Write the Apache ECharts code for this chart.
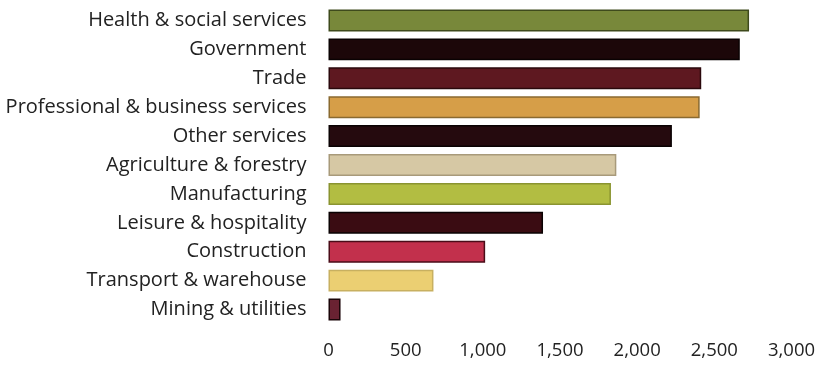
<!DOCTYPE html>
<html><head><meta charset="utf-8">
<script src="https://cdn.jsdelivr.net/npm/echarts@6/dist/echarts.min.js"></script>
<style>html,body{margin:0;padding:0;background:#fff}#c{width:819px;height:366px}</style>
</head><body><div id="c"></div>
<script>
const categories = ["Health & social services","Government","Trade","Professional & business services","Other services","Agriculture & forestry","Manufacturing","Leisure & hospitality","Construction","Transport & warehouse","Mining & utilities"];
const values = [2725, 2665, 2415, 2405, 2225, 1865, 1830, 1390, 1015, 680, 78];
const fills = ["#78883a","#1c0709","#5e1820","#d69e48","#250a0e","#d6c8a4","#b2bd42","#3a0c12","#c2304c","#ebcf72","#6a2232"];
const borders = ["#3e4a1c","#0a0203","#2a080c","#8a6a30","#0a0203","#a89a7a","#8a9430","#0a0203","#4a0c18","#c8b060","#1a0508"];
const ticks = [0, 500, 1000, 1500, 2000, 2500, 3000];

const chart = echarts.init(document.getElementById('c'));
chart.setOption({
  animation: false,
  grid: {left: 328.5, right: 27.5, top: 6, bottom: 42, containLabel: false, outerBoundsMode: 'none'},
  xAxis: {
    type: 'value', min: ticks[0], max: ticks[ticks.length-1], interval: 500,
    axisLine: {show: false}, axisTick: {show: false}, splitLine: {show: false},
    axisLabel: {color: '#222', fontFamily: 'Open Sans', fontSize: 18.5, margin: 17,
      formatter: v => v.toLocaleString('en-US')}
  },
  yAxis: {
    type: 'category', data: categories, inverse: true,
    axisLine: {show: false}, axisTick: {show: false},
    axisLabel: {color: '#222', fontFamily: 'Open Sans', fontSize: 20, margin: 22}
  },
  series: [{
    type: 'bar', barCategoryGap: '24%',
    data: values.map((v, i) => ({value: v, itemStyle: {color: fills[i], borderColor: borders[i], borderWidth: 1.5}}))
  }]
});
</script></body></html>
